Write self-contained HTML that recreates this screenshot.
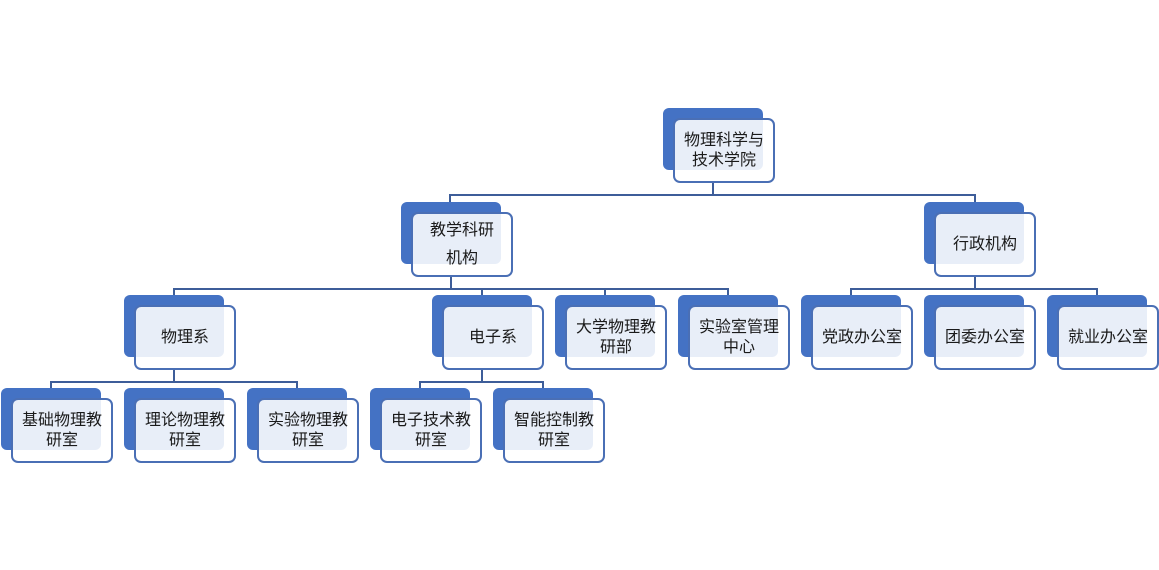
<!DOCTYPE html>
<html><head><meta charset="utf-8"><style>
body{margin:0;width:1159px;height:570px;background:#fff;position:relative;overflow:hidden;font-family:"Liberation Sans","Noto Sans CJK SC",sans-serif}
.b{position:absolute;width:100px;height:62px;background:#4472C4;border-radius:6px}
.f{position:absolute;width:98px;height:61px;border:2px solid #4a6fb5;border-radius:7px;background:rgba(255,255,255,0.88);display:flex;align-items:center;justify-content:center;text-align:center;font-size:16px;line-height:20px;color:#1a1a1a;box-sizing:content-box}
.l{position:absolute;background:#3d5d99}
</style></head><body>
<div class="l" style="left:712px;top:182px;width:2px;height:14px"></div>
<div class="l" style="left:449px;top:194px;width:527px;height:2px"></div>
<div class="l" style="left:449px;top:194px;width:2px;height:9px"></div>
<div class="l" style="left:974px;top:194px;width:2px;height:9px"></div>

<div class="l" style="left:450px;top:276px;width:2px;height:14px"></div>
<div class="l" style="left:173px;top:288px;width:556px;height:2px"></div>
<div class="l" style="left:173px;top:288px;width:2px;height:8px"></div>
<div class="l" style="left:481px;top:288px;width:2px;height:8px"></div>
<div class="l" style="left:604px;top:288px;width:2px;height:8px"></div>
<div class="l" style="left:727px;top:288px;width:2px;height:8px"></div>

<div class="l" style="left:974px;top:276px;width:2px;height:14px"></div>
<div class="l" style="left:850px;top:288px;width:248px;height:2px"></div>
<div class="l" style="left:850px;top:288px;width:2px;height:8px"></div>
<div class="l" style="left:1096px;top:288px;width:2px;height:8px"></div>

<div class="l" style="left:173px;top:369px;width:2px;height:14px"></div>
<div class="l" style="left:50px;top:381px;width:248px;height:2px"></div>
<div class="l" style="left:50px;top:381px;width:2px;height:8px"></div>
<div class="l" style="left:296px;top:381px;width:2px;height:8px"></div>

<div class="l" style="left:481px;top:369px;width:2px;height:14px"></div>
<div class="l" style="left:419px;top:381px;width:125px;height:2px"></div>
<div class="l" style="left:419px;top:381px;width:2px;height:8px"></div>
<div class="l" style="left:542px;top:381px;width:2px;height:8px"></div>

<div class="b" style="left:663px;top:108px"></div><div class="f" style="left:673px;top:118px">物理科学与<br>技术学院</div>

<div class="b" style="left:401px;top:202px"></div><div class="f" style="left:411px;top:212px;line-height:28px">教学科研<br>机构</div>
<div class="b" style="left:924px;top:202px"></div><div class="f" style="left:934px;top:212px">行政机构</div>

<div class="b" style="left:124px;top:295px"></div><div class="f" style="left:134px;top:305px">物理系</div>
<div class="b" style="left:432px;top:295px"></div><div class="f" style="left:442px;top:305px">电子系</div>
<div class="b" style="left:555px;top:295px"></div><div class="f" style="left:565px;top:305px">大学物理教<br>研部</div>
<div class="b" style="left:678px;top:295px"></div><div class="f" style="left:688px;top:305px">实验室管理<br>中心</div>
<div class="b" style="left:801px;top:295px"></div><div class="f" style="left:811px;top:305px">党政办公室</div>
<div class="b" style="left:924px;top:295px"></div><div class="f" style="left:934px;top:305px">团委办公室</div>
<div class="b" style="left:1047px;top:295px"></div><div class="f" style="left:1057px;top:305px">就业办公室</div>

<div class="b" style="left:1px;top:388px"></div><div class="f" style="left:11px;top:398px">基础物理教<br>研室</div>
<div class="b" style="left:124px;top:388px"></div><div class="f" style="left:134px;top:398px">理论物理教<br>研室</div>
<div class="b" style="left:247px;top:388px"></div><div class="f" style="left:257px;top:398px">实验物理教<br>研室</div>
<div class="b" style="left:370px;top:388px"></div><div class="f" style="left:380px;top:398px">电子技术教<br>研室</div>
<div class="b" style="left:493px;top:388px"></div><div class="f" style="left:503px;top:398px">智能控制教<br>研室</div>
</body></html>
